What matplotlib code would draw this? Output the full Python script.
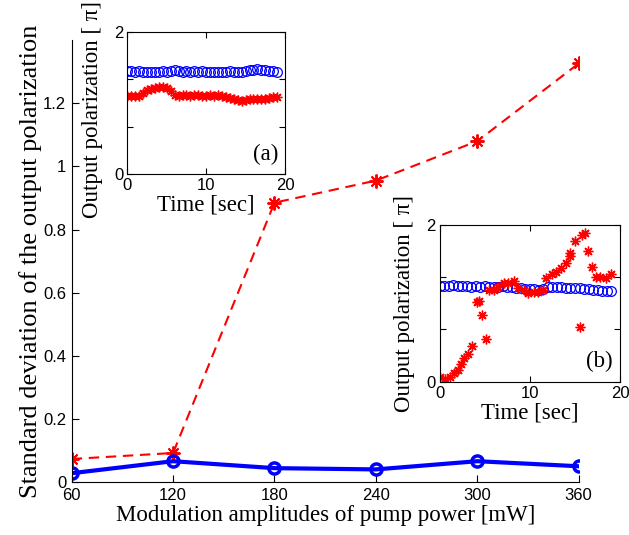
import numpy as np
from matplotlib import pyplot as plt

# main plot data
power = [60, 120, 180, 240, 300, 360]
std_red = [0.073, 0.092, 0.885, 0.955, 1.08, 1.326]
std_blue = [0.028, 0.066, 0.044, 0.040, 0.066, 0.050]

# inset (a)
t_a = np.arange(0, 19.01, 0.5)
pol_a_blue = [1.45, 1.45, 1.44, 1.45, 1.44, 1.44, 1.43, 1.44, 1.44, 1.45,
              1.44, 1.45, 1.46, 1.45, 1.44, 1.45, 1.44, 1.45, 1.44, 1.45,
              1.43, 1.44, 1.43, 1.44, 1.44, 1.44, 1.45, 1.44, 1.44, 1.44,
              1.45, 1.46, 1.46, 1.47, 1.46, 1.46, 1.45, 1.45, 1.44]
pol_a_red = [1.10, 1.09, 1.09, 1.10, 1.14, 1.18, 1.20, 1.21, 1.22, 1.22,
             1.21, 1.16, 1.11, 1.10, 1.11, 1.11, 1.10, 1.11, 1.11, 1.10,
             1.10, 1.11, 1.10, 1.11, 1.10, 1.08, 1.07, 1.06, 1.04, 1.03,
             1.04, 1.05, 1.06, 1.06, 1.06, 1.06, 1.07, 1.08, 1.08]

# inset (b)
t_b = np.arange(0, 19.01, 0.5)
pol_b_blue = [1.22, 1.22, 1.22, 1.23, 1.22, 1.22, 1.22, 1.21, 1.22, 1.21,
              1.22, 1.21, 1.21, 1.21, 1.22, 1.21, 1.21, 1.20, 1.19, 1.18,
              1.18, 1.18, 1.17, 1.18, 1.21, 1.21, 1.21, 1.21, 1.20, 1.20,
              1.19, 1.19, 1.18, 1.18, 1.17, 1.17, 1.16, 1.16, 1.16]
t_b_red = [0, 0.55, 1.1, 1.6, 2.0, 2.3, 2.7, 3.1, 3.6, 4.1, 4.3, 4.7, 5.1,
           5.5, 6.0, 6.5, 7.1, 7.6, 8.2, 8.7, 9.3, 9.8, 10.4, 10.9, 11.5,
           11.8, 12.4, 12.9, 13.5, 14.0, 14.4, 14.5, 15.0, 15.5, 15.8, 16.1,
           16.4, 16.9, 17.3, 17.8, 18.4, 19.0]
pol_b_red = [0.064, 0.04, 0.06, 0.11, 0.15, 0.23, 0.30, 0.36, 0.45, 1.02,
             1.03, 0.85, 0.55, 1.17, 1.17, 1.21, 1.26, 1.26, 1.28, 1.19,
             1.17, 1.13, 1.15, 1.15, 1.17, 1.32, 1.38, 1.40, 1.45, 1.51,
             1.60, 1.64, 1.79, 0.70, 1.87, 1.90, 1.67, 1.47, 1.34, 1.34,
             1.32, 1.37]

SERIF = 'Liberation Serif'
SANS = 'Liberation Sans'
STAR = (8, 2, 0)  # matlab-like asterisk
plt.rcParams['font.family'] = SANS
plt.rcParams['xtick.direction'] = 'in'
plt.rcParams['ytick.direction'] = 'in'

fig = plt.figure(figsize=(6.29, 5.35), dpi=100)

ax = fig.add_axes([0.114, 0.099, 0.806, 0.826])
ax.plot(power, std_red, '--', color='red', dashes=(5, 3.2), marker=STAR,
        ms=10, lw=1.5, mew=1.4)
ax.plot(power, std_blue, '-', color='#0000ff', marker='o', ms=8, lw=3,
        mfc='none', mew=2.5)
ax.set_xlim(60, 360)
ax.set_ylim(0, 1.4)
ax.set_xticks(power)
ax.set_yticks([0, 0.2, 0.4, 0.6, 0.8, 1.0, 1.2])
ax.set_yticklabels(['0', '0.2', '0.4', '0.6', '0.8', '1', '1.2'])
ax.tick_params(labelsize=12, length=5, pad=4)
ax.spines['top'].set_visible(False)
ax.spines['right'].set_visible(False)
ax.set_xlabel('Modulation amplitudes of pump power [mW]', family=SERIF,
              fontsize=16.5, labelpad=2)
ax.set_ylabel('Standard deviation of the output polarization', family=SERIF,
              fontsize=19)
ax.yaxis.set_label_coords(-0.058, 0.5)


def inset(rect, t_blue, y_blue, t_red, y_red, tag, lab_xy):
    a = fig.add_axes(rect)
    a.set_facecolor('white')
    a.plot(t_blue, y_blue, 'o', color='#0000ff', mfc='none', ms=7, mew=0.9)
    a.plot(t_red, y_red, linestyle='none', marker=STAR, color='red', ms=7,
           mew=1.0)
    a.set_xlim(0, 20)
    a.set_ylim(0, 2)
    a.set_xticks([0, 10, 20])
    a.set_yticks([0, 2 / 3, 4 / 3, 2])
    a.set_yticklabels(['0', '', '', '2'])
    a.tick_params(labelsize=12, length=4, pad=3, top=True, right=True)
    a.set_xlabel('Time [sec]', family=SERIF, fontsize=16.5, labelpad=1)
    a.set_ylabel('Output polarization [ \u03c0]', family=SERIF, fontsize=16.5)
    a.yaxis.set_label_coords(*lab_xy)
    a.text(0.96, 0.06, tag, transform=a.transAxes, ha='right', va='bottom',
           family=SERIF, fontsize=16.5)
    return a


inset([0.2024, 0.6748, 0.2507, 0.266], t_a, pol_a_blue, t_a, pol_a_red,
      '(a)', (-0.155, 0.45))
inset([0.6995, 0.2865, 0.2862, 0.2929], t_b, pol_b_blue, t_b_red, pol_b_red,
      '(b)', (-0.14, 0.5))

fig.savefig('out.png', dpi=100)
